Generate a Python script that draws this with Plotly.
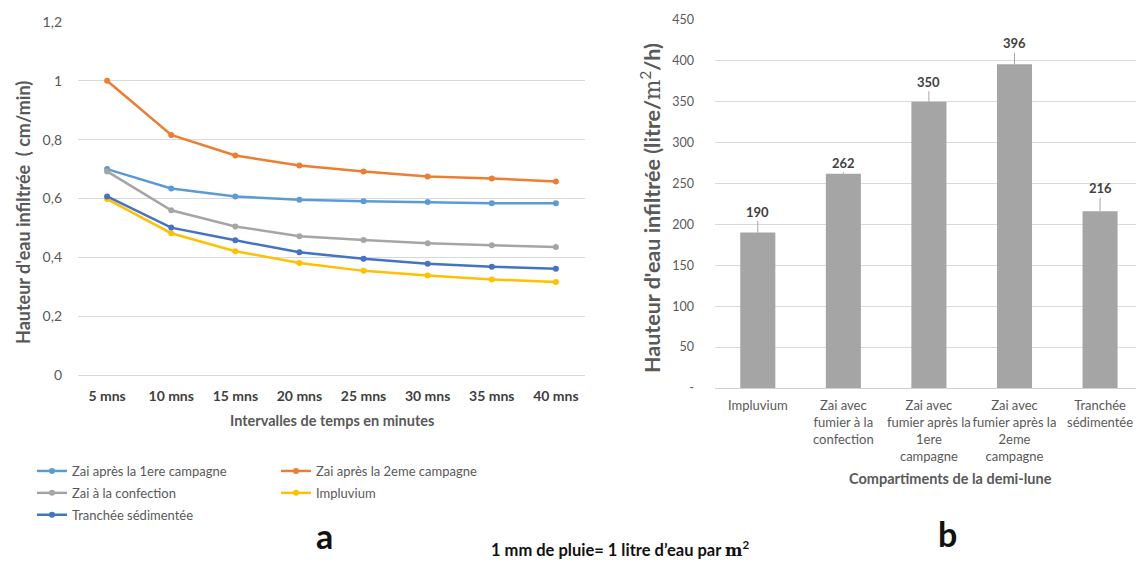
import plotly.graph_objects as go

# ---------------- data ----------------
intervals = ["5 mns", "10 mns", "15 mns", "20 mns", "25 mns", "30 mns", "35 mns", "40 mns"]
zai_1ere = [0.70, 0.634, 0.607, 0.596, 0.591, 0.588, 0.584, 0.584]
zai_2eme = [1.00, 0.816, 0.746, 0.712, 0.692, 0.675, 0.668, 0.658]
zai_confection = [0.692, 0.560, 0.505, 0.472, 0.459, 0.448, 0.441, 0.435]
impluvium = [0.598, 0.482, 0.421, 0.381, 0.354, 0.338, 0.325, 0.316]
tranchee = [0.607, 0.501, 0.458, 0.417, 0.395, 0.378, 0.368, 0.361]

compartments = [
    "Impluvium",
    "Zai avec<br>fumier à la<br>confection",
    "Zai avec<br>fumier après la<br>1ere<br>campagne",
    "Zai avec<br>fumier après la<br>2eme<br>campagne",
    "Tranchée<br>sédimentée",
]
infiltration = [190, 262, 350, 396, 216]
bar_ticks = [0, 50, 100, 150, 200, 250, 300, 350, 400, 450]
bar_ticktext = ["-", "50", "100", "150", "200", "250", "300", "350", "400", "450"]

# styling (not data)
label_offsets = [-21, -11, -20, -21, -23]
FONT = "Lato, 'Noto Sans', sans-serif"
GRID = "#d9d9d9"
TXT = "#595959"
W, H = 1136, 563


def px_x(p):
    return p / W


def px_y(p):
    return 1 - p / H


fig = go.Figure()

series = [
    ("Zai après la 1ere campagne", zai_1ere, "#5b9bd5", "legend"),
    ("Zai après la 2eme campagne", zai_2eme, "#ed7d31", "legend2"),
    ("Zai à la confection", zai_confection, "#a5a5a5", "legend"),
    ("Impluvium", impluvium, "#ffc000", "legend2"),
    ("Tranchée sédimentée", tranchee, "#4472c4", "legend"),
]
for name, vals, col, lg in series:
    fig.add_trace(go.Scatter(
        x=intervals, y=vals, name=name, mode="lines+markers", legendgroup=name,
        line=dict(color=col, width=2.5), marker=dict(color=col, size=6),
        xaxis="x", yaxis="y", legend=lg,
    ))

fig.add_trace(go.Bar(
    x=compartments, y=infiltration, marker=dict(color="#a5a5a5"),
    width=0.41, xaxis="x2", yaxis="y2", showlegend=False,
))

for c, v, off in zip(compartments, infiltration, label_offsets):
    fig.add_annotation(
        x=c, y=v, xref="x2", yref="y2", text="<b>%d</b>" % v,
        showarrow=True, arrowhead=0, arrowwidth=1, arrowcolor="#a6a6a6",
        ax=0, ay=off, font=dict(size=13, color="#404040", family=FONT),
    )

fig.update_layout(
    template="none",
    width=W, height=H, margin=dict(l=0, r=0, t=0, b=0, autoexpand=False),
    paper_bgcolor="white", plot_bgcolor="white",
    separators=", ",
    font=dict(family=FONT, color=TXT, size=12),
    xaxis=dict(
        domain=[px_x(78), px_x(585)], anchor="y", showgrid=False, automargin=False,
        showline=False, ticks="", tickfont=dict(size=14, color="#404040", family=FONT),
        tickprefix="<b>", ticksuffix="</b>", fixedrange=True, zeroline=False,
        ticklabelstandoff=11, tickangle=0,
    ),
    yaxis=dict(
        domain=[px_y(375), px_y(22)], anchor="x", range=[0, 1.2], dtick=0.2,
        showgrid=True, gridcolor=GRID, gridwidth=1, zeroline=True, automargin=False,
        zerolinecolor=GRID, zerolinewidth=1, showline=False, ticks="",
        tickfont=dict(size=14, color=TXT), ticklabelstandoff=15,
    ),
    xaxis2=dict(
        domain=[px_x(715), 1.0], anchor="y2", range=[-0.5, 4.42], automargin=False,
        showgrid=False, showline=False, ticks="", zeroline=False, tickangle=0,
        tickfont=dict(size=13, color=TXT), ticklabelstandoff=8,
    ),
    yaxis2=dict(
        domain=[px_y(388), px_y(20)], anchor="x2", range=[0, 450], automargin=False,
        tickvals=bar_ticks, ticktext=bar_ticktext,
        showgrid=True, gridcolor=GRID, gridwidth=1, zeroline=True,
        zerolinecolor="#d0d0d0", zerolinewidth=1, showline=False, ticks="",
        tickfont=dict(size=12.5, color=TXT), ticklabelstandoff=20,
    ),
    legend=dict(
        x=px_x(32), y=px_y(456), xanchor="left", yanchor="top",
        orientation="v", traceorder="grouped", itemwidth=30,
        font=dict(size=13, color=TXT, family=FONT), tracegroupgap=2,
        bgcolor="rgba(0,0,0,0)",
    ),
    legend2=dict(
        x=px_x(276), y=px_y(456), xanchor="left", yanchor="top",
        orientation="v", traceorder="grouped", itemwidth=30,
        font=dict(size=13, color=TXT, family=FONT), tracegroupgap=2,
        bgcolor="rgba(0,0,0,0)",
    ),
)

# axis titles and panel labels
def note(xp, yp, text, size, color=TXT, angle=0):
    fig.add_annotation(
        x=px_x(xp), y=px_y(yp), xref="paper", yref="paper", showarrow=False,
        xanchor="center", yanchor="middle", text=text, textangle=angle,
        font=dict(size=size, color=color, family=FONT),
    )


note(23, 213, "<b>Hauteur d'eau infiltrée \u00a0( cm/min)</b>", 18, angle=-90)
note(332, 420, "<b>Intervalles de temps en minutes</b>", 14.5)
note(651, 208,
     "<b>Hauteur d'eau infiltrée (litre/</b><span style='font-family:DejaVu Serif, serif'>m</span><sup>2</sup><b>/h)</b>",
     21.5, angle=-90)
note(950, 478, "<b>Compartiments de la demi-lune</b>", 14.5)
note(324, 535, "<b>a</b>", 34, color="#111111")
note(947, 533, "<b>b</b>", 34, color="#111111")
note(620, 549,
     "<b>1 mm de pluie= 1 litre d’eau par </b><span style='font-family:DejaVu Serif, serif'><b>m</b></span><sup><b>2</b></sup>",
     16.5, color="#111111")

fig.write_html("out.html", config={"displayModeBar": False},
               post_script="document.body.style.margin='0px';")
